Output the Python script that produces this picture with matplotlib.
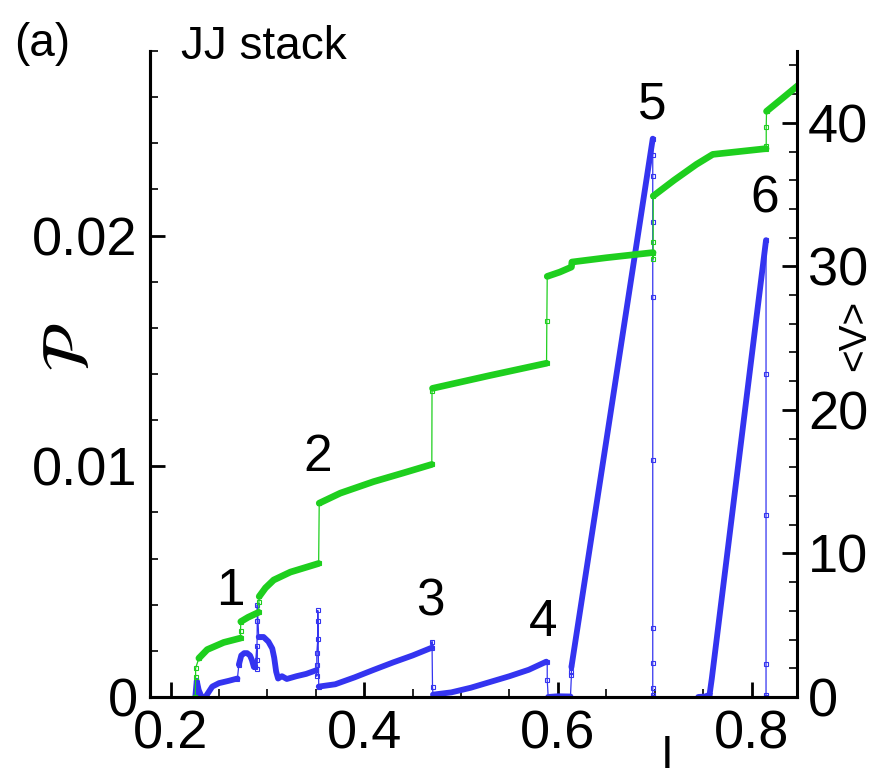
import numpy as np
import matplotlib
matplotlib.use("Agg")
import matplotlib.pyplot as plt
from matplotlib.ticker import MultipleLocator

plt.rcParams['font.family'] = ['Liberation Sans', 'DejaVu Sans']
plt.rcParams['mathtext.fontset'] = 'stix'

azul = '#3434f0'
verde = '#1ecf1e'

# P(I): tramos continuos (NaN separa los tramos)
I_P = [0.2255, 0.227, 0.229, 0.232, 0.236, 0.243, 0.250, 0.260, 0.269, np.nan,
       0.2705, 0.273, 0.276, 0.279, 0.282, 0.284, 0.286, 0.2875, np.nan,
       0.291, 0.296, 0.301, 0.305, 0.307, 0.309, 0.311, 0.315, 0.320, 0.330, 0.340, 0.350, np.nan,
       0.353, 0.370, 0.390, 0.410, 0.430, 0.450, 0.470, np.nan,
       0.471, 0.490, 0.510, 0.530, 0.550, 0.570, 0.588, np.nan,
       0.590, 0.600, 0.613, np.nan,
       0.614, 0.650, 0.698, np.nan,
       0.745, 0.752, 0.757, np.nan,
       0.757, 0.759, 0.815]
P = [0.0, 0.0007, 0.0003, 0.0, 0.0, 0.00045, 0.0006, 0.0007, 0.0008, np.nan,
     0.0014, 0.0018, 0.0019, 0.0019, 0.0018, 0.0016, 0.0013, 0.0013, np.nan,
     0.0026, 0.0026, 0.0024, 0.0021, 0.0017, 0.0011, 0.0008, 0.0009, 0.00078, 0.0009, 0.0010, 0.00115, np.nan,
     0.00045, 0.00055, 0.00085, 0.00118, 0.0015, 0.0018, 0.00214, np.nan,
     0.0001, 0.0002, 0.0004, 0.00065, 0.0009, 0.00118, 0.00153, np.nan,
     0.0, 0.00003, 0.00002, np.nan,
     0.0013, 0.0111, 0.0242, np.nan,
     0.0, 0.00002, 0.0001, np.nan,
     0.0002, 0.0008, 0.0198]

# P(I): saltos (puntos sueltos unidos por linea fina)
I_Psalto = [0.269, 0.2705, np.nan,
            0.2875, 0.289, 0.289, 0.289, 0.2895, 0.2895, 0.291, np.nan,
            0.350, 0.351, 0.351, 0.351, 0.352, 0.352, 0.352, 0.353, np.nan,
            0.470, 0.470, 0.4705, 0.471, np.nan,
            0.588, 0.589, 0.589, 0.590, np.nan,
            0.613, 0.614, 0.614, 0.614, np.nan,
            0.698, 0.698, 0.698, 0.698, 0.698, 0.698, 0.698, 0.698, 0.698, 0.698, 0.698, np.nan,
            0.815, 0.815, 0.815, 0.815, 0.815, 0.815]
P_salto = [0.0008, 0.0014, np.nan,
           0.0013, 0.0022, 0.0016, 0.0012, 0.0033, 0.0040, 0.0026, np.nan,
           0.00115, 0.0009, 0.0014, 0.0019, 0.0025, 0.0033, 0.00375, 0.00045, np.nan,
           0.00214, 0.0024, 0.00045, 0.0001, np.nan,
           0.00153, 0.00153, 0.00074, 0.0, np.nan,
           0.00002, 0.00095, 0.0011, 0.0013, np.nan,
           0.0242, 0.0235, 0.0226, 0.0206, 0.01732, 0.01028, 0.00298, 0.00149, 0.00038, 0.0001, 0.0, np.nan,
           0.0198, 0.0140, 0.00787, 0.00143, 0.0001, 0.0]

# <V>(I): tramos continuos
I_V = [0.2292, 0.2378, 0.2549, 0.2722, np.nan,
       0.2725, 0.2800, 0.2910, np.nan,
       0.2915, 0.2980, 0.3065, 0.3237, 0.3529, np.nan,
       0.3535, 0.3753, 0.4096, 0.4400, 0.4698, np.nan,
       0.4705, 0.5300, 0.5883, np.nan,
       0.5890, 0.6020, 0.6140, 0.6145, 0.6500, 0.6983, np.nan,
       0.6985, 0.7200, 0.7430, 0.7600, 0.8150, np.nan,
       0.8155, 0.8300, 0.8480]
V = [2.7, 3.3, 3.8, 4.1, np.nan,
     5.25, 5.55, 5.9, np.nan,
     7.0, 7.6, 8.15, 8.7, 9.3, np.nan,
     13.5, 14.2, 15.0, 15.6, 16.2, np.nan,
     21.5, 22.4, 23.25, np.nan,
     29.3, 29.6, 29.95, 30.3, 30.6, 30.96, np.nan,
     34.9, 36.0, 37.1, 37.8, 38.2, np.nan,
     40.8, 41.6, 42.6]

# <V>(I): saltos
I_Vsalto = [0.2255, 0.2258, 0.2258, 0.2292, np.nan,
            0.2722, 0.2722, 0.2725, np.nan,
            0.2910, 0.2912, 0.2915, np.nan,
            0.3529, 0.3535, np.nan,
            0.4698, 0.4700, 0.4705, np.nan,
            0.5883, 0.5886, 0.5890, np.nan,
            0.6983, 0.6984, 0.6984, 0.6985, np.nan,
            0.8150, 0.8152, 0.8152, 0.8155]
V_salto = [0.0, 1.4, 2.0, 2.7, np.nan,
           4.1, 4.6, 5.25, np.nan,
           5.9, 6.6, 7.0, np.nan,
           9.3, 13.5, np.nan,
           16.2, 21.3, 21.5, np.nan,
           23.25, 26.2, 29.3, np.nan,
           30.96, 30.5, 31.7, 34.9, np.nan,
           38.2, 38.4, 39.7, 40.8]

etiquetas = ['1', '2', '3', '4', '5', '6']
etq_I = [0.2619, 0.3515, 0.4686, 0.5843, 0.6979, 0.8134]
etq_P = [0.00456, 0.01037, 0.00412, 0.00321, 0.02568, 0.0216]

fig = plt.figure(figsize=(8.84, 7.79), dpi=100)
ax = fig.add_axes([0.170, 0.1053, 0.7316, 0.8292])
ax2 = ax.twinx()

ax.plot(I_Psalto, P_salto, color=azul, lw=0.9, marker='s', ms=3.5,
        mfc='none', mec=azul, mew=0.8)
ax.plot(I_P, P, color=azul, lw=4.2, solid_capstyle='round')

ax2.plot(I_Vsalto, V_salto, color=verde, lw=0.9, marker='s', ms=3.5,
         mfc='none', mec=verde, mew=0.8)
ax2.plot(I_V, V, color=verde, lw=4.8, solid_capstyle='round')

for t, x, y in zip(etiquetas, etq_I, etq_P):
    ax.text(x, y, t, fontsize=37, ha='center', va='center')

ax.set_xlim(0.179, 0.847)
ax.set_ylim(0, 0.028)
ax2.set_ylim(0, 45)

ax.xaxis.set_minor_locator(MultipleLocator(0.05))
ax.yaxis.set_minor_locator(MultipleLocator(0.002))
ax2.yaxis.set_major_locator(MultipleLocator(10))
ax2.yaxis.set_minor_locator(MultipleLocator(2))
ax.set_xticks([0.2, 0.4, 0.6, 0.8])
ax.set_xticklabels(['0.2', '0.4', '0.6', '0.8'])
ax.set_yticks([0, 0.01, 0.02])
ax.set_yticklabels(['0', '0.01', '0.02'])

for a in (ax, ax2):
    a.spines['top'].set_visible(False)
    for s in a.spines.values():
        s.set_linewidth(2.2)
    a.tick_params(which='major', direction='in', length=11, width=2.0, labelsize=39)
    a.tick_params(which='minor', direction='in', length=5.5, width=1.2)
ax.tick_params(axis='x', pad=9)
ax.tick_params(axis='y', pad=9)
ax2.tick_params(axis='y', pad=8)
ax.spines['right'].set_visible(False)

# etiquetas de los ejes
fig.text(72 / 884, 1 - 347 / 779, r'$\mathcal{P}$', fontsize=48,
         rotation=90, ha='center', va='center')
fig.text(855 / 884, 1 - 335 / 779, '<V>', fontsize=28,
         rotation=90, ha='center', va='center')
fig.text(667 / 884, 1 / 779, 'I', fontsize=33, ha='center', va='bottom')

fig.text(0.016, 0.972, '(a)', fontsize=33, va='top')
fig.text(0.205, 0.968, 'JJ stack', fontsize=33, va='top')

fig.savefig('out.png', dpi=100)
